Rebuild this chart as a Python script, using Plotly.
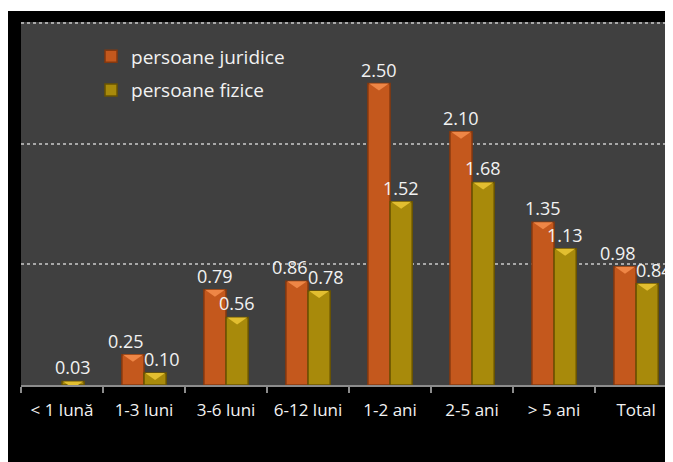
import plotly.graph_objects as go

categories = ["< 1 lună", "1-3 luni", "3-6 luni", "6-12 luni", "1-2 ani", "2-5 ani", "> 5 ani", "Total"]
juridice = [None, 0.25, 0.79, 0.86, 2.50, 2.10, 1.35, 0.98]
fizice = [0.03, 0.10, 0.56, 0.78, 1.52, 1.68, 1.13, 0.84]

ORANGE = "#C4581D"
ORANGE_HI = "#EE8646"
GOLD = "#A88A0B"
GOLD_HI = "#E2BE30"
FONT = "Open Sans"
LABEL = "#F2F2F2"

fig = go.Figure()

fig.add_trace(go.Bar(
    x=categories, y=juridice, name="persoane juridice",
    marker=dict(color=ORANGE, line=dict(color="#84380F", width=1.5)),
    legendgroup="a",
))
fig.add_trace(go.Bar(
    x=categories, y=fizice, name="persoane fizice",
    marker=dict(color=GOLD, line=dict(color="#6A5400", width=1.5)),
    legendgroup="b",
))

half = 0.27 / 2
shapes = []
# white strip above the black frame
shapes.append(dict(type="rect", xref="paper", yref="paper", x0=-0.1, x1=1.1,
                   y0=1.0303, y1=1.2, fillcolor="white", line=dict(width=0), layer="below"))
annotations = []
for i in range(len(categories)):
    a, b = juridice[i], fizice[i]
    push = 0
    if a is not None and b is not None and abs(a - b) < 0.16:
        push = 7
    for v, offset, col, sign in ((a, -half, ORANGE_HI, -1), (b, half, GOLD_HI, 1)):
        if v is None:
            continue
        # highlight triangle on bar top
        shapes.append(dict(type="path", xref="x", yref="y",
                           xsizemode="pixel", ysizemode="pixel",
                           xanchor=i + offset, yanchor=v,
                           path="M -10,0 L 10,0 L 0,-7 Z",
                           fillcolor=col, line=dict(width=0), layer="above"))
        annotations.append(dict(x=i + offset, y=v, xref="x", yref="y",
                                text=f"{v:.2f}", showarrow=False,
                                yanchor="bottom", yshift=0, xshift=sign * push,
                                font=dict(size=18, color=LABEL, family=FONT)))

fig.update_layout(
    width=665, height=454,
    margin=dict(l=13, r=0, t=14, b=77),
    paper_bgcolor="black",
    plot_bgcolor="#404040",
    barmode="group", bargap=0.46, bargroupgap=0,
    font=dict(family=FONT, color=LABEL),
    showlegend=True,
    legend=dict(x=0.1074, y=0.9575, xanchor="left", yanchor="top",
                bgcolor="rgba(0,0,0,0)", font=dict(size=19, color=LABEL, family=FONT),
                tracegroupgap=6, itemwidth=30),
    shapes=shapes,
    annotations=annotations,
)
fig.update_xaxes(
    type="category", range=[-0.5, 7.45], tickson="boundaries",
    ticks="outside", ticklen=6, tickwidth=2, tickcolor="#8C8C8C",
    showline=True, linecolor="#8C8C8C", linewidth=2,
    tickfont=dict(size=17, color=LABEL, family=FONT),
    ticklabelstandoff=9,
    showgrid=False,
)
fig.update_yaxes(
    range=[0, 3.01], dtick=1, showticklabels=False,
    showgrid=True, gridcolor="#A8A8A8", griddash="dot", gridwidth=2,
    zeroline=False, showline=False,
)

fig.write_html("out.html")
